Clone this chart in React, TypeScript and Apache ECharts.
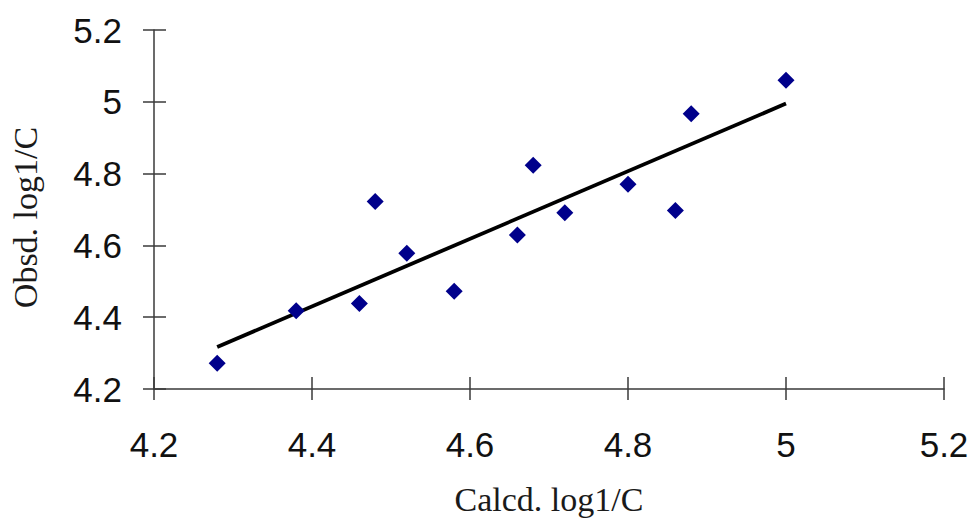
import React, { useEffect, useRef } from "react";
import * as echarts from "echarts";

const calcd = [4.28, 4.38, 4.46, 4.48, 4.52, 4.58, 4.66, 4.68, 4.72, 4.8, 4.86, 4.88, 5.0];
const obsd = [4.272, 4.418, 4.438, 4.722, 4.578, 4.472, 4.629, 4.823, 4.691, 4.77, 4.697, 4.967, 5.06];
const trendX = [4.28, 5.0];
const trendY = [4.317, 4.995];
const axisMin = 4.2;
const axisMax = 5.2;
const axisStep = 0.2;

const fmt = (v: number) => String(Math.round(v * 10) / 10);

export default function App() {
  const ref = useRef<HTMLDivElement>(null);
  useEffect(() => {
    if (!ref.current) return;
    const chart = echarts.init(ref.current, null, { renderer: "svg" });
    const lineColor = "#3a3a3a";
    const baseAxis = {
      type: "value" as const,
      min: axisMin,
      max: axisMax,
      interval: axisStep,
      splitLine: { show: false },
    };
    chart.setOption({
      animation: false,
      backgroundColor: "#ffffff",
      grid: { left: 153, right: 30, top: 30, bottom: 136 },
      xAxis: [
        {
          ...baseAxis,
          position: "bottom",
          name: "Calcd. log1/C",
          nameLocation: "middle",
          nameGap: 93,
          nameTextStyle: { fontFamily: "Liberation Serif", fontSize: 34, color: "#1a1a1a" },
          axisLine: { show: true, lineStyle: { color: lineColor, width: 1.5 } },
          axisTick: { show: true, inside: false, length: 11, lineStyle: { color: lineColor, width: 1.5 } },
          axisLabel: {
            margin: 38,
            fontFamily: "Liberation Sans",
            fontSize: 35,
            color: "#111",
            formatter: fmt,
          },
        },
        {
          ...baseAxis,
          position: "bottom",
          axisLine: { show: false },
          axisTick: { show: true, inside: true, length: 12, lineStyle: { color: lineColor, width: 1.5 } },
          axisLabel: { show: false },
        },
      ],
      yAxis: [
        {
          ...baseAxis,
          position: "left",
          name: "Obsd. log1/C",
          nameLocation: "middle",
          nameGap: 112,
          nameRotate: 90,
          nameTextStyle: {
            fontFamily: "Liberation Serif",
            fontSize: 34,
            color: "#1a1a1a",
            padding: [0, 16, 0, 0],
          },
          axisLine: { show: true, lineStyle: { color: lineColor, width: 1.5 } },
          axisTick: { show: true, inside: false, length: 11, lineStyle: { color: lineColor, width: 1.5 } },
          axisLabel: {
            margin: 32,
            fontFamily: "Liberation Sans",
            fontSize: 35,
            color: "#111",
            formatter: fmt,
          },
        },
        {
          ...baseAxis,
          position: "left",
          axisLine: { show: false },
          axisTick: { show: true, inside: true, length: 12, lineStyle: { color: lineColor, width: 1.5 } },
          axisLabel: { show: false },
        },
      ],
      series: [
        {
          type: "line",
          xAxisIndex: 0,
          yAxisIndex: 0,
          data: trendX.map((x, i) => [x, trendY[i]]),
          symbol: "none",
          lineStyle: { color: "#000", width: 3.8 },
          z: 2,
        },
        {
          type: "scatter",
          xAxisIndex: 0,
          yAxisIndex: 0,
          data: calcd.map((x, i) => [x, obsd[i]]),
          symbol: "diamond",
          symbolSize: [17, 17],
          itemStyle: { color: "#00008b", opacity: 1 },
          z: 3,
        },
      ],
    });
    return () => chart.dispose();
  }, []);
  return (
    <div
      ref={ref}
      style={{ position: "fixed", left: 0, top: 0, width: 974, height: 525 }}
    />
  );
}
